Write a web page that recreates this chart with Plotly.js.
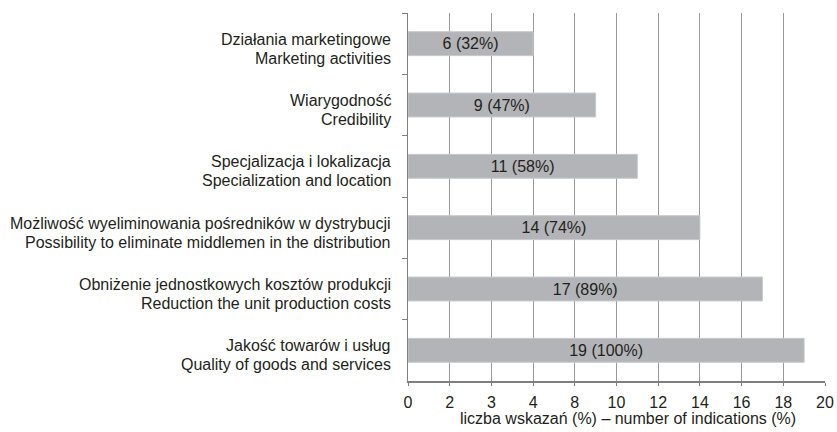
<!DOCTYPE html>
<html><head><meta charset="utf-8">
<script src="https://cdn.plot.ly/plotly-3.0.1.min.js"></script>
<style>html,body{margin:0;padding:0;background:#fff}#chart{width:837px;height:432px}</style>
</head><body><div id="chart"></div>
<script>
var categoriesPL = ["Działania marketingowe","Wiarygodność","Specjalizacja i lokalizacja","Możliwość wyeliminowania pośredników w dystrybucji","Obniżenie jednostkowych kosztów produkcji","Jakość towarów i usług"];
var categoriesEN = ["Marketing activities","Credibility","Specialization and location","Possibility to eliminate middlemen in the distribution","Reduction the unit production costs","Quality of goods and services"];
var counts = [6, 9, 11, 14, 17, 19];
var percents = [32, 47, 58, 74, 89, 100];
var tickValues = [0,2,4,6,8,10,12,14,16,18,20];
var tickLabels = ["0","2","3","4","8","10","12","14","16","18","20"];
var xTitle = "liczba wskazań (%) – number of indications (%)";

var labels = counts.map(function(c,i){return c + " (" + percents[i] + "%)";});
var FF = "Liberation Sans, Arial, sans-serif";
var TC = "#231f20";
var FS = 16;

var trace = {
  type:"bar", orientation:"h", x:counts, y:categoriesPL, text:labels,
  textposition:"inside", insidetextanchor:"middle", textangle:0,
  textfont:{family:FF, size:FS, color:TC},
  marker:{color:"#b3b4b7", line:{color:"#c9cacc", width:1}},
  hoverinfo:"none"
};

var annotations = [];
categoriesPL.forEach(function(p,i){
  annotations.push({xref:"paper", yref:"y", x:0, y:p, text:p, showarrow:false,
    xanchor:"right", yanchor:"middle", xshift:-15, yshift:4.5,
    font:{family:FF, size:FS, color:TC}});
  annotations.push({xref:"paper", yref:"y", x:0, y:p, text:categoriesEN[i], showarrow:false,
    xanchor:"right", yanchor:"middle", xshift:-15, yshift:-14.5,
    font:{family:FF, size:FS, color:TC}});
});
annotations.push({xref:"paper", yref:"paper", x:0.5, y:0, text:xTitle, showarrow:false,
  xanchor:"center", yanchor:"middle", xshift:11, yshift:-37,
  font:{family:FF, size:FS, color:TC}});

var layout = {
  width:837, height:432,
  margin:{l:408, r:12, t:13, b:51},
  paper_bgcolor:"#fff", plot_bgcolor:"#fff",
  font:{family:FF, size:FS, color:TC}, showlegend:false, bargap:0.61,
  annotations:annotations,
  xaxis:{range:[0,20], tickmode:"array", tickvals:tickValues, ticktext:tickLabels,
    showgrid:true, gridcolor:"#9a9a9a", gridwidth:1, zeroline:false,
    showline:true, linecolor:"#7f7f7f", linewidth:1.5,
    ticks:"outside", ticklen:3, tickcolor:"#7f7f7f", tickwidth:1,
    ticklabelstandoff:3,
    tickfont:{family:FF, size:FS, color:TC},
    fixedrange:true},
  yaxis:{autorange:"reversed", type:"category", categoryorder:"array", categoryarray:categoriesPL,
    showgrid:false, zeroline:false, showticklabels:false,
    showline:true, linecolor:"#7f7f7f", linewidth:1.5,
    ticks:"outside", tickson:"boundaries", ticklen:5, tickcolor:"#7f7f7f", tickwidth:1,
    fixedrange:true}
};
Plotly.newPlot("chart", [trace], layout, {displayModeBar:false, staticPlot:true});
</script></body></html>
